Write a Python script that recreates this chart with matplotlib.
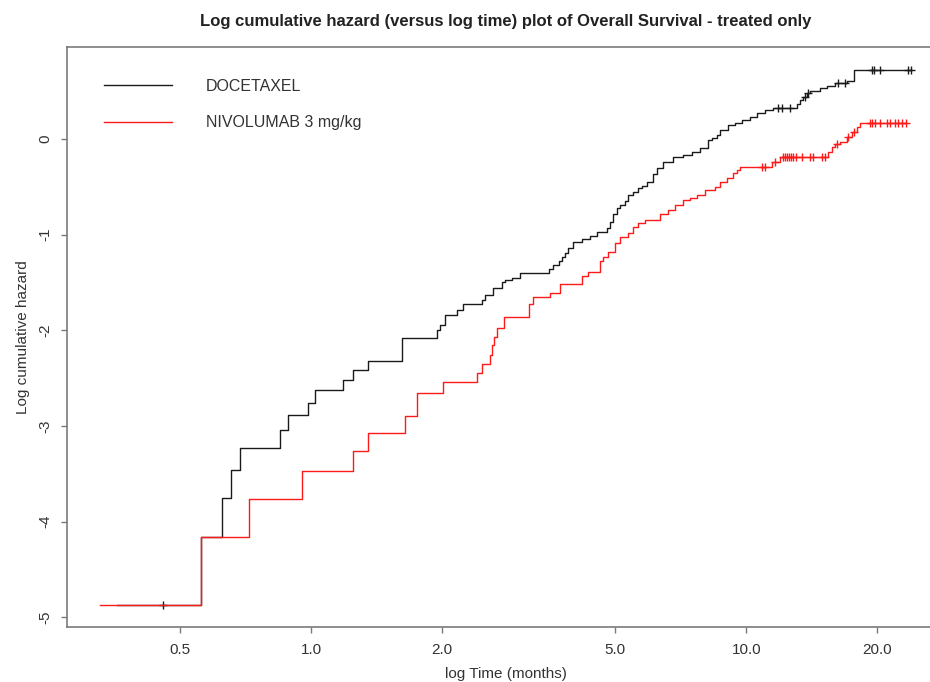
import matplotlib
matplotlib.use('Agg')
import matplotlib.pyplot as plt
import numpy as np

# step times (months) and log cumulative hazard
doc_t = [0.358, 0.559, 0.624, 0.655, 0.687, 0.849, 0.885, 0.984, 1.021, 1.184,
         1.249, 1.352, 1.619, 1.948, 1.979, 2.032, 2.166, 2.235, 2.471, 2.511,
         2.619, 2.747, 2.791, 2.896, 3.021, 3.523, 3.598, 3.714, 3.774, 3.834,
         3.896, 4.000, 4.195, 4.377, 4.542, 4.789, 4.865, 4.943, 5.049, 5.130,
         5.267, 5.352, 5.495, 5.642, 5.763, 5.917, 6.108, 6.238, 6.439, 6.790,
         7.158, 7.507, 7.831, 8.171, 8.345, 8.568, 8.705, 9.082, 9.426, 9.783,
         10.20, 10.59, 11.05, 11.53, 13.09, 13.30, 13.51, 13.80, 14.02, 14.78,
         15.33, 16.00, 17.05, 17.69, 23.93]
doc_y = [-4.87, -4.16, -3.75, -3.46, -3.23, -3.04, -2.89, -2.76, -2.62, -2.52,
         -2.41, -2.32, -2.08, -2.00, -1.94, -1.84, -1.79, -1.73, -1.68, -1.63,
         -1.56, -1.50, -1.47, -1.45, -1.40, -1.36, -1.32, -1.28, -1.23, -1.19,
         -1.14, -1.08, -1.05, -1.01, -0.97, -0.93, -0.87, -0.79, -0.72, -0.69,
         -0.65, -0.59, -0.56, -0.51, -0.49, -0.45, -0.37, -0.30, -0.24, -0.19,
         -0.17, -0.14, -0.10, -0.01, 0.01, 0.04, 0.09, 0.14, 0.17, 0.20,
         0.23, 0.27, 0.30, 0.32, 0.36, 0.41, 0.44, 0.48, 0.50, 0.53,
         0.55, 0.58, 0.60, 0.72, 0.72]
doc_cens = [0.457, 11.84, 12.09, 12.61, 13.65, 13.87, 16.26, 16.86,
            19.46, 19.67, 20.31, 23.54, 23.93]

nivo_t = [0.327, 0.559, 0.720, 0.953, 1.249, 1.352, 1.645, 1.752, 2.011, 2.407,
          2.471, 2.578, 2.599, 2.633, 2.676, 2.776, 3.169, 3.237, 3.541, 3.734,
          4.195, 4.331, 4.615, 4.689, 4.814, 4.996, 5.130, 5.352, 5.495, 5.642,
          5.856, 6.339, 6.612, 6.862, 7.158, 7.428, 7.71, 8.04, 8.48, 8.71,
          9.04, 9.33, 9.53, 9.68, 11.47, 11.96, 15.42, 15.75, 16.00, 16.43,
          17.05, 17.51, 17.98, 18.27, 23.30]
nivo_y = [-4.87, -4.16, -3.76, -3.47, -3.26, -3.07, -2.90, -2.65, -2.54, -2.45,
          -2.35, -2.26, -2.15, -2.07, -1.98, -1.86, -1.73, -1.65, -1.61, -1.52,
          -1.43, -1.39, -1.28, -1.23, -1.18, -1.09, -1.03, -0.98, -0.92, -0.88,
          -0.85, -0.79, -0.74, -0.69, -0.64, -0.62, -0.59, -0.53, -0.50, -0.45,
          -0.41, -0.36, -0.32, -0.29, -0.24, -0.19, -0.14, -0.08, -0.05, -0.03,
          0.02, 0.07, 0.12, 0.17, 0.17]
nivo_cens = [10.87, 11.06, 11.66, 12.15, 12.28, 12.41, 12.54, 12.68, 12.81, 13.02,
             13.44, 14.02, 14.24, 14.94, 15.17, 16.17, 17.14, 17.69, 19.26, 19.46,
             19.77, 20.31, 21.07, 21.41, 21.98, 22.33, 22.80, 23.30]

series = [
    ("DOCETAXEL", doc_t, doc_y, doc_cens, "#1a1a1a"),
    ("NIVOLUMAB 3 mg/kg", nivo_t, nivo_y, nivo_cens, "#ff1a1a"),
]

x_ticks = [0.5, 1.0, 2.0, 5.0, 10.0, 20.0]
x_ticklabels = ["0.5", "1.0", "2.0", "5.0", "10.0", "20.0"]
y_ticks = [-5, -4, -3, -2, -1, 0]

plt.rcParams['font.family'] = ['Liberation Sans', 'DejaVu Sans']
plt.rcParams['axes.unicode_minus'] = False

fig = plt.figure(figsize=(9.30, 6.82), dpi=100)
ax = fig.add_axes([67 / 930, 55 / 682, (945 - 67) / 930, (627 - 47) / 682])

for label, t, y, cens, color in series:
    ax.step(t, y, where="post", color=color, lw=1.0, label=label)
    idx = np.searchsorted(t, cens, side="right") - 1
    ax.plot(cens, np.asarray(y)[idx], linestyle="none", marker="+",
            ms=6, mew=1.0, color=color)

ax.set_xscale("log")
ax.set_xlim(0.275, 28.6)
ax.set_ylim(-5.10, 0.96)
ax.set_xticks(x_ticks)
ax.set_xticklabels(x_ticklabels)
ax.xaxis.set_minor_locator(matplotlib.ticker.NullLocator())
ax.set_yticks(y_ticks)
ax.set_yticklabels([str(v) for v in y_ticks], rotation=90, va="center")

for sp in ax.spines.values():
    sp.set_color("#7a7a7a")
    sp.set_linewidth(1.2)
ax.tick_params(length=4.5, width=1.0, color="#7a7a7a", labelsize=11,
               labelcolor="#333333")
ax.tick_params(axis="x", pad=7)
ax.tick_params(axis="y", pad=6)

ax.set_xlabel("log Time (months)", fontsize=11, color="#333333", labelpad=7)
ax.set_ylabel("Log cumulative hazard", fontsize=11, color="#333333", labelpad=6)
ax.set_title("Log cumulative hazard (versus log time) plot of Overall Survival - treated only",
             fontsize=12, fontweight="bold", color="#222222", pad=15)

leg = ax.legend(loc="upper left", bbox_to_anchor=(0.026, 0.97), frameon=False,
                fontsize=11.5, handlelength=4.25, handletextpad=2.1, labelspacing=1.36)
for txt in leg.get_texts():
    txt.set_color("#333333")

fig.savefig("out.png", dpi=100)
